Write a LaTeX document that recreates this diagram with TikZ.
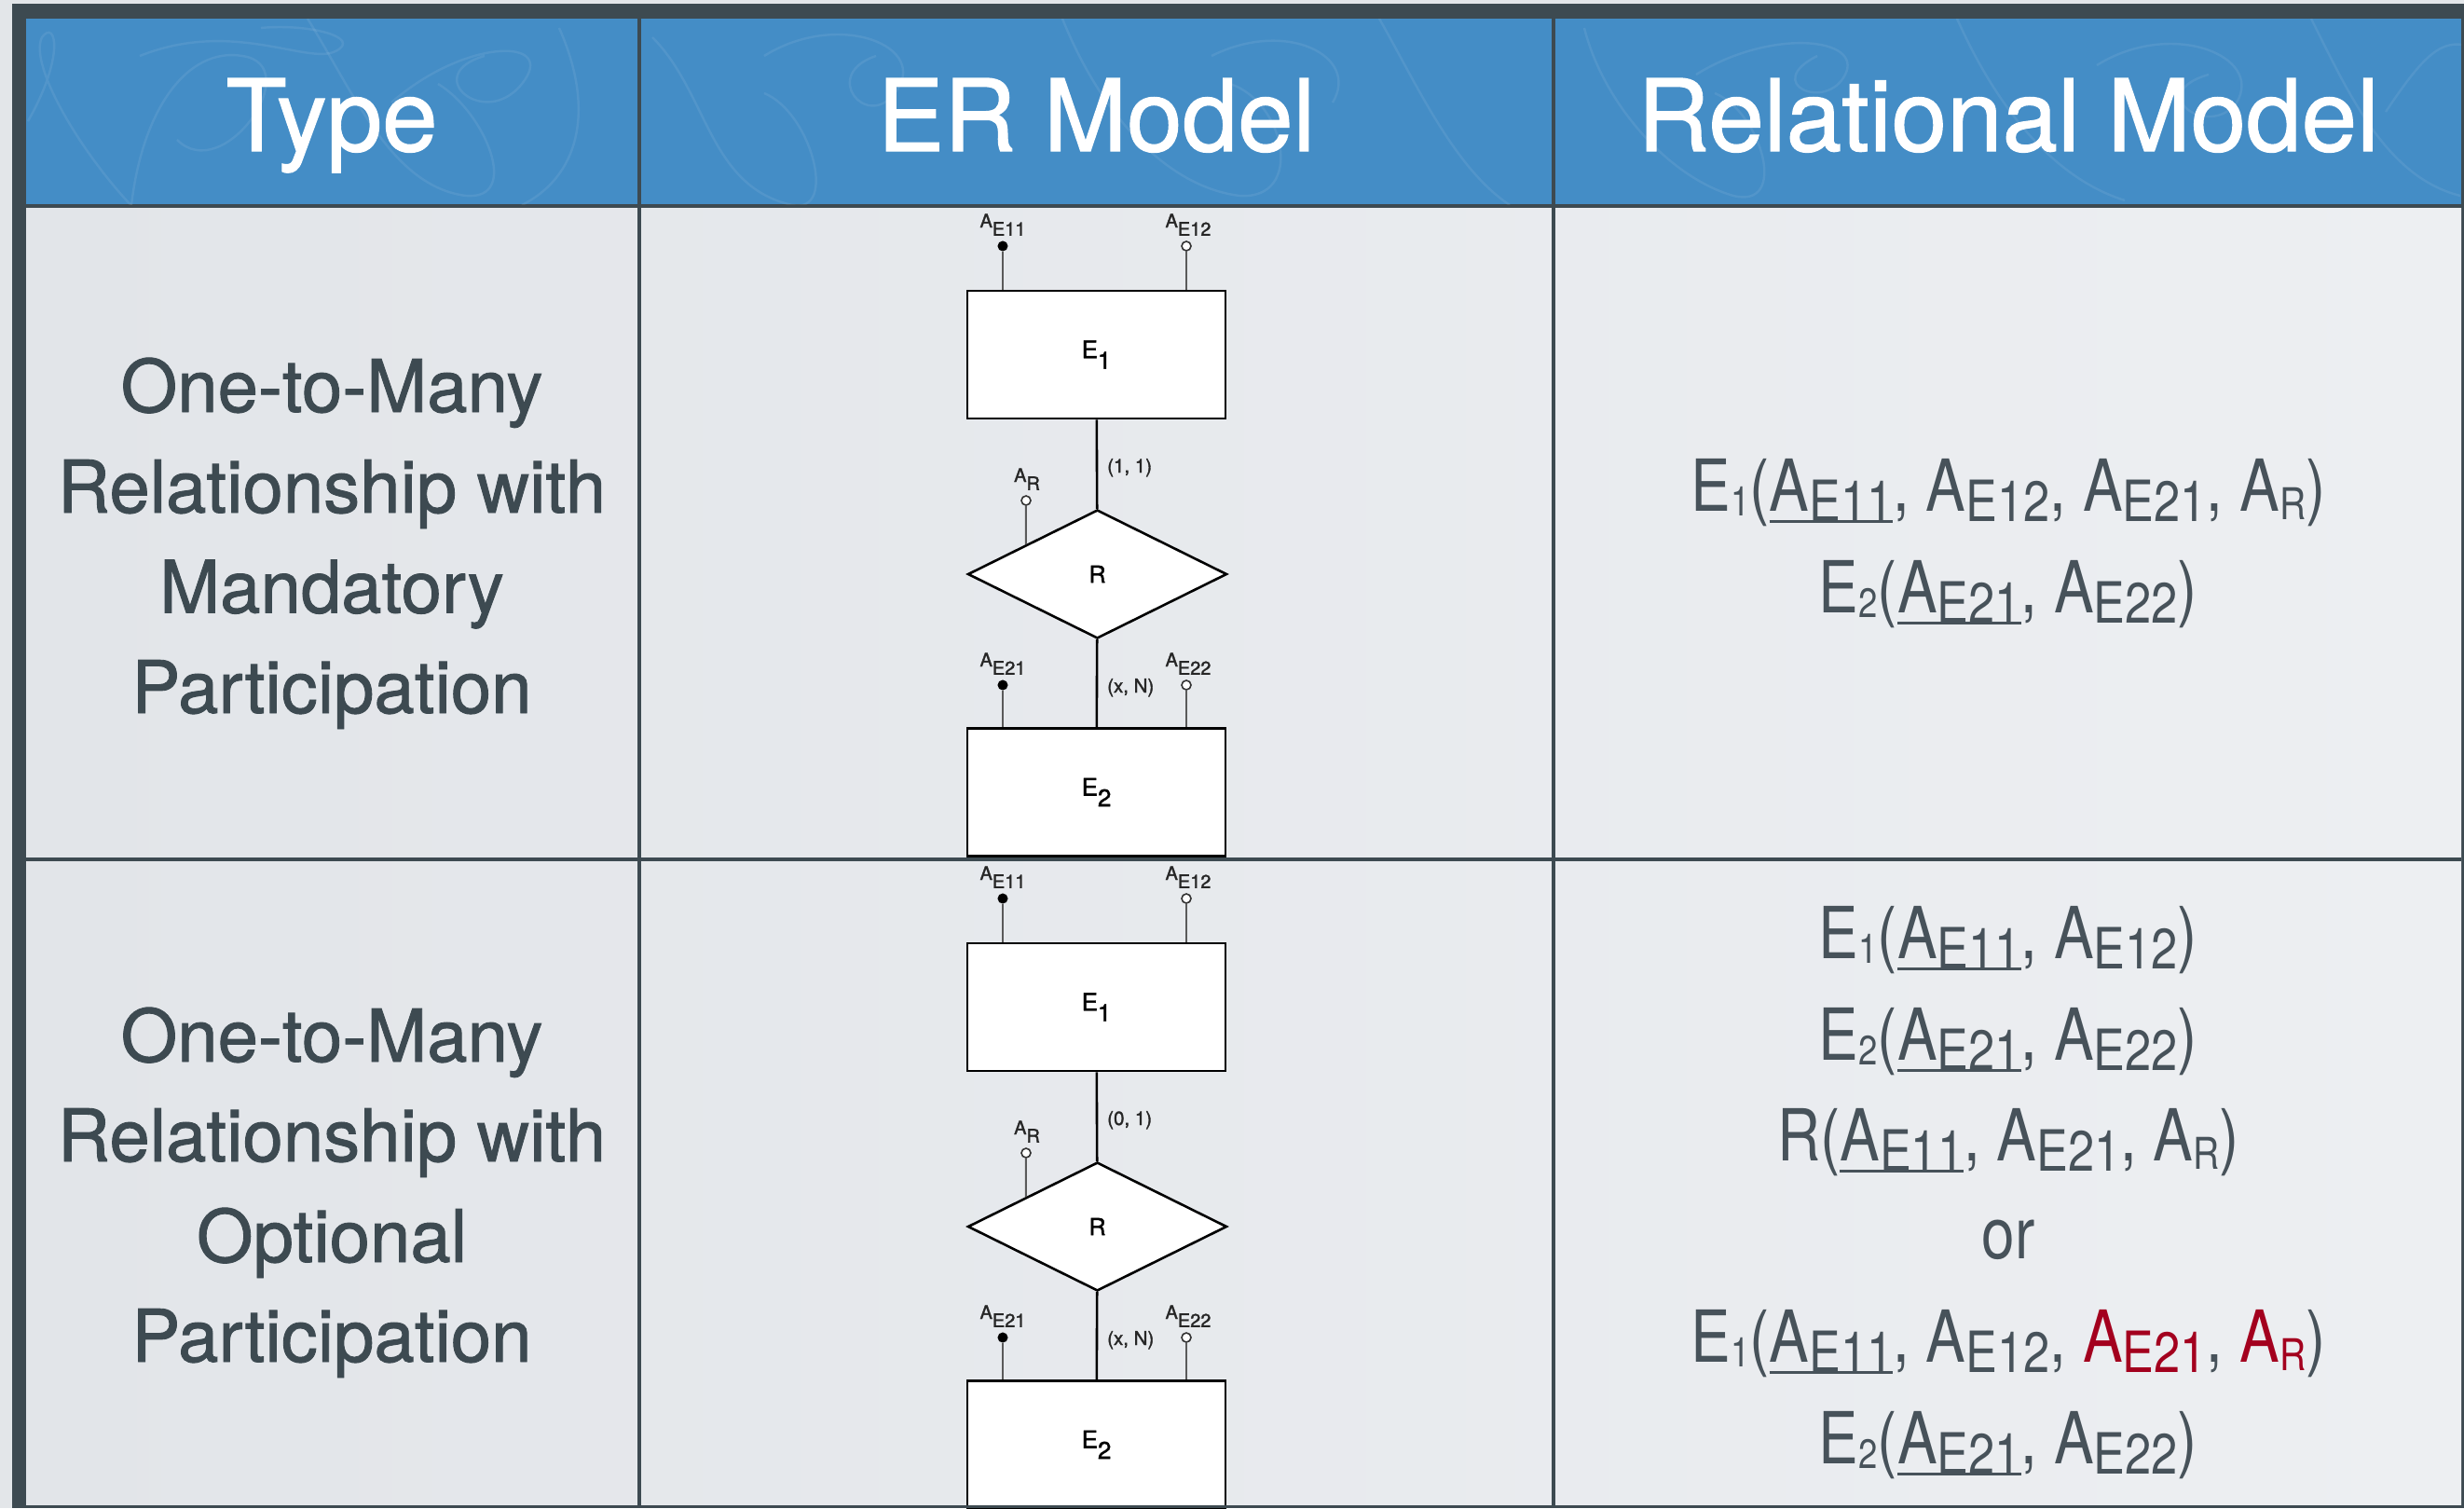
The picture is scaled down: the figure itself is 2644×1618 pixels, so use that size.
\documentclass[tikz,border=0pt]{standalone}
\usepackage{fontspec}
\setmainfont{TeX Gyre Heros}
\newfontfamily\relfont[FakeStretch=0.83]{TeX Gyre Heros}
\newfontfamily\typefont[FakeBold=1.1]{TeX Gyre Heros}
\newfontfamily\erfont[FakeBold=1.6]{TeX Gyre Heros}
\usetikzlibrary{shapes.geometric,calc}

\definecolor{pagebg}{HTML}{E3E6E9}
\definecolor{frame}{HTML}{3D4A51}
\definecolor{headblue}{HTML}{448DC6}
\definecolor{bodyleft}{HTML}{E2E5E9}
\definecolor{bodyright}{HTML}{EDEFF2}
\definecolor{typeink}{HTML}{3D4A51}
\definecolor{relink}{HTML}{47525A}
\definecolor{keyred}{HTML}{A3001E}
\definecolor{attrgray}{HTML}{5A5A5A}

% relational-schema notation: attribute names with lowered subscripts
\newcommand{\Asub}[1]{A\raisebox{-11pt}{\fontsize{61}{70}\selectfont #1}}
\newcommand{\Rsub}[1]{\raisebox{-9pt}{\fontsize{47}{55}\selectfont #1}}
\newcommand{\Ssub}[1]{\raisebox{-5pt}{\fontsize{44}{50}\selectfont #1}}
\newcommand{\keyul}[1]{\setbox0\hbox{#1}\rlap{\rule[-13pt]{\wd0}{3pt}}\box0}
% lowered index inside the ER diagram
\newcommand{\erlow}[1]{\raisebox{-0.44em}{#1}}

\tikzset{
  headtext/.style={anchor=base, inner sep=0, text=white, font=\typefont\fontsize{107}{120}\selectfont},
  typetext/.style={anchor=base, inner sep=0, text=typeink, font=\typefont\fontsize{78}{90}\selectfont},
  reltext/.style={anchor=base, inner sep=0, text=relink, font=\relfont\fontsize{77}{90}\selectfont},
  entitybox/.style={draw=black, line width=2.6pt, fill=white, rectangle,
    minimum width=277pt, minimum height=137pt, inner sep=0, font=\erfont\fontsize{26}{30}\selectfont},
  relbox/.style={draw=black, line width=2.6pt, fill=white, diamond, aspect=2,
    minimum width=278pt, minimum height=138pt, inner sep=0, font=\erfont\fontsize{25}{28}\selectfont},
  link/.style={draw=black, line width=2.6pt},
  attrline/.style={draw=attrgray, line width=2pt},
  keydot/.style={circle, fill=black, draw=black, line width=1pt, inner sep=0, minimum size=10pt},
  plaindot/.style={circle, fill=white, draw=black!80, line width=1.6pt, inner sep=0, minimum size=10pt},
  attrlabel/.style={anchor=base, inner sep=0, text=black!85, font=\erfont\fontsize{20}{24}\selectfont},
  cardlabel/.style={anchor=base west, inner sep=0, text=black!85, font=\erfont\fontsize{20.5}{24}\selectfont},
  swirl/.style={draw=white, draw opacity=0.08, line width=2.4pt},
}

% one ER fragment: E1 --(card)-- R --(x,N)-- E2 with its attributes
% #1 name prefix, #2 vertical offset, #3 cardinality of E1
\newcommand{\erdiagram}[3]{%
  \begin{scope}[shift={(0,#2)}]
    \node[entitybox] (#1e1) at (1176.5,380.5) {E\erlow{1}};
    \node[relbox] (#1r) at (1177.5,616) {R};
    \node[entitybox] (#1e2) at (1176.5,850) {E\erlow{2}};
    \draw[link] (#1e1) -- (#1r);
    \draw[link] (#1r) -- (#1e2);
    \node[keydot] (#1k1) at (1076,264) {};
    \node[plaindot] (#1a12) at (1273,264) {};
    \node[plaindot] (#1ar) at (1101,537) {};
    \node[keydot] (#1k2) at (1076,735) {};
    \node[plaindot] (#1a22) at (1273,735) {};
    \coordinate (#1rside) at ($(#1r.west)!0.453!(#1r.north)$);
    \draw[attrline] (#1k1) -- (#1k1 |- #1e1.north);
    \draw[attrline] (#1a12) -- (#1a12 |- #1e1.north);
    \draw[attrline] (#1ar) -- (#1rside);
    \draw[attrline] (#1k2) -- (#1k2 |- #1e2.north);
    \draw[attrline] (#1a22) -- (#1a22 |- #1e2.north);
    \node[attrlabel] (#1k1l) at (1076,244) {A\erlow{E11}};
    \node[attrlabel] (#1a12l) at (1275,244) {A\erlow{E12}};
    \node[attrlabel] (#1arl) at (1102,517) {A\erlow{R}};
    \node[attrlabel] (#1k2l) at (1076,715) {A\erlow{E21}};
    \node[attrlabel] (#1a22l) at (1275,715) {A\erlow{E22}};
    \node[cardlabel] (#1c1) at (1188,507) {#3};
    \node[cardlabel] (#1c2) at (1188,743) {(x, N)};
  \end{scope}}

\begin{document}
\begin{tikzpicture}[x=1pt,y=-1pt]
  \useasboundingbox (0,0) rectangle (2644,1618);
  \clip (0,0) rectangle (2644,1618);

  % page and table frame
  \fill[pagebg] (0,0) rectangle (2644,1618);
  \fill[frame] (13,4) rectangle (2644,1618);

  % header band with its faint pattern
  \fill[headblue] (28,20) rectangle (2641,219);
  \begin{scope}
    \clip (28,20) rectangle (2641,219);
    \draw[swirl] (30,130) .. controls (70,60) and (60,20) .. (45,40) .. controls (30,70) and (90,170) .. (150,230);
    \draw[swirl] (140,230) .. controls (150,120) and (200,50) .. (260,60) .. controls (330,70) and (240,200) .. (190,150);
    \draw[swirl] (150,60) .. controls (250,20) and (330,70) .. (360,55) .. controls (390,40) and (330,25) .. (280,30);
    \draw[swirl] (330,20) .. controls (380,100) and (420,200) .. (500,210) .. controls (560,215) and (520,120) .. (470,90);
    \draw[swirl] (420,110) .. controls (500,40) and (600,40) .. (560,90) .. controls (520,140) and (450,80) .. (520,60);
    \draw[swirl] (600,30) .. controls (640,120) and (620,190) .. (560,220);
    \draw[swirl] (700,40) .. controls (760,100) and (760,200) .. (850,220) .. controls (900,230) and (870,120) .. (820,100);
    \draw[swirl] (820,60) .. controls (900,10) and (1000,50) .. (960,100) .. controls (930,140) and (880,80) .. (940,60);
    \draw[swirl] (1140,20) .. controls (1180,120) and (1250,200) .. (1330,210) .. controls (1400,215) and (1380,110) .. (1320,90);
    \draw[swirl] (1300,60) .. controls (1380,20) and (1460,60) .. (1430,110);
    \draw[swirl] (1480,20) .. controls (1520,90) and (1560,180) .. (1620,220);
    \draw[swirl] (1700,30) .. controls (1720,110) and (1790,190) .. (1860,210) .. controls (1920,225) and (1890,120) .. (1840,100);
    \draw[swirl] (1820,80) .. controls (1900,30) and (2000,40) .. (1980,80) .. controls (1960,120) and (1890,90) .. (1950,60);
    \draw[swirl] (2100,20) .. controls (2140,110) and (2200,190) .. (2280,215);
    \draw[swirl] (2250,70) .. controls (2330,20) and (2430,60) .. (2400,110) .. controls (2370,150) and (2300,100) .. (2370,80);
    \draw[swirl] (2480,20) .. controls (2520,100) and (2560,190) .. (2640,210);
    \draw[swirl] (2560,120) .. controls (2600,60) and (2620,40) .. (2650,50);
  \end{scope}

  % table body
  \shade[left color=bodyleft, right color=bodyright] (28,223) rectangle (2641,1615);

  % grid lines
  \fill[frame] (684,20) rectangle (688,1615);
  \fill[frame] (1665,20) rectangle (1669,1615);
  \fill[frame] (28,920) rectangle (2641,924);

  % column headings
  \node[headtext] (hType) at (356,162) {Type};
  \node[headtext] (hER) at (1176.5,162) {ER Model};
  \node[headtext] (hRel) at (2155,162) {Relational Model};

  % relationship types
  \node[typetext] (ta1) at (356,442) {One-to-Many};
  \node[typetext] (ta2) at (356,550) {Relationship with};
  \node[typetext] (ta3) at (356,657.5) {Mandatory};
  \node[typetext] (ta4) at (356,765) {Participation};
  \node[typetext] (tb1) at (356,1139) {One-to-Many};
  \node[typetext] (tb2) at (356,1246) {Relationship with};
  \node[typetext] (tb3) at (356,1354) {Optional};
  \node[typetext] (tb4) at (356,1461) {Participation};

  % ER diagrams
  \erdiagram{m}{0}{(1, 1)}
  \erdiagram{o}{700}{(0, 1)}

  % relational schemas
  \node[reltext] (ra1) at (2155,548) {E\Ssub{1}(\keyul{\Asub{E11}}, \Asub{E12}, \Asub{E21}, A\Rsub{R})};
  \node[reltext] (ra2) at (2155,657) {E\Ssub{2}(\keyul{\Asub{E21}}, \Asub{E22})};

  \node[reltext] (rb1) at (2155,1028) {E\Ssub{1}(\keyul{\Asub{E11}}, \Asub{E12})};
  \node[reltext] (rb2) at (2155,1137) {E\Ssub{2}(\keyul{\Asub{E21}}, \Asub{E22})};
  \node[reltext] (rb3) at (2155,1245) {R(\keyul{\Asub{E11}}, \Asub{E21}, A\Rsub{R})};
  \node[reltext] (rb4) at (2155,1350) {or};
  \node[reltext] (rb5) at (2155,1461) {E\Ssub{1}(\keyul{\Asub{E11}}, \Asub{E12}, {\color{keyred}\Asub{E21}}, {\color{keyred}A\Rsub{R}})};
  \node[reltext] (rb6) at (2155,1570) {E\Ssub{2}(\keyul{\Asub{E21}}, \Asub{E22})};

  % bottom edge of the frame over the cut-off entity
  \fill[frame] (13,1615) rectangle (2644,1618);
\end{tikzpicture}
\end{document}
